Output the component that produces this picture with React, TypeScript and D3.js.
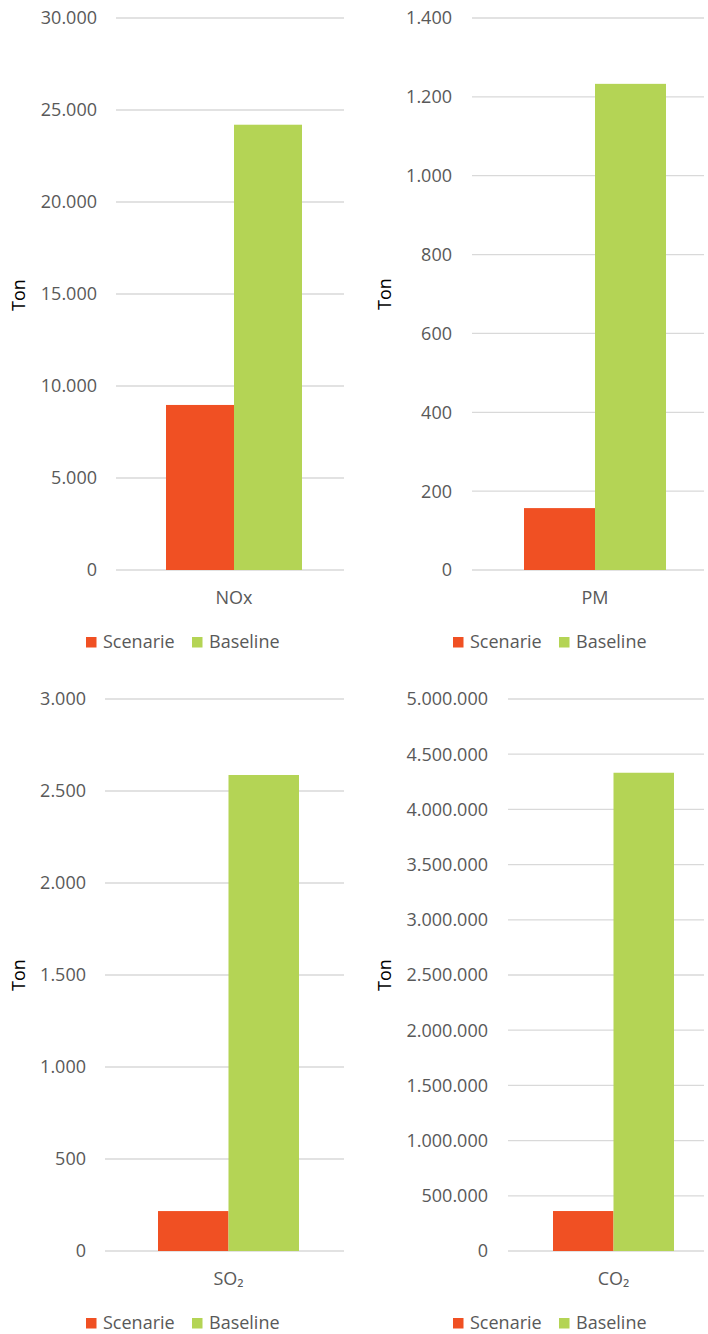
import React from "react";
import * as d3 from "d3";

const pollutants = ["NOx", "PM", "SO₂", "CO₂"];
const seriesNames = ["Scenarie", "Baseline"];
const scenarieValues = [8970, 157, 217, 362000];
const baselineValues = [24200, 1233, 2587, 4332000];
const axisMax = [30000, 1400, 3000, 5000000];
const axisStep = [5000, 200, 500, 500000];
const axisTitle = "Ton";

const colors = ["#F05023", "#B4D455"];
const textGray = "#595959";
const gridColor = "#D9D9D9";
const fontFamily = "'Open Sans', 'Segoe UI', sans-serif";

// layout per panel
const layouts = [
  { gridL: 116, gridR: 344, top: 18, bottom: 570, labelR: 97, barL: 166, barR: 302, titleX: 25, titleY: 295, catY: 604, legY: 648, legX: 86 },
  { gridL: 472, gridR: 704, top: 18, bottom: 570, labelR: 452, barL: 524, barR: 666, titleX: 391, titleY: 294, catY: 604, legY: 648, legX: 453 },
  { gridL: 105, gridR: 344, top: 699, bottom: 1251, labelR: 86, barL: 158, barR: 299, titleX: 25, titleY: 975, catY: 1285, legY: 1329, legX: 86 },
  { gridL: 508, gridR: 704, top: 699, bottom: 1251, labelR: 488, barL: 553, barR: 674, titleX: 391, titleY: 975, catY: 1285, legY: 1329, legX: 453 },
];

const fmt = (v: number) => d3.format(",")(v).replace(/,/g, ".");

function Panel({ i }: { i: number }) {
  const L = layouts[i];
  const y = d3.scaleLinear().domain([0, axisMax[i]]).range([L.bottom, L.top]);
  const ticks = d3.range(0, axisMax[i] + axisStep[i] / 2, axisStep[i]);
  const x = d3.scaleBand<string>().domain(seriesNames).range([L.barL, L.barR]).padding(0);
  const vals = [scenarieValues[i], baselineValues[i]];
  const cx = (L.barL + L.barR) / 2;
  return (
    <g>
      {ticks.map((t) => (
        <g key={t}>
          <line x1={L.gridL} x2={L.gridR} y1={y(t)} y2={y(t)} stroke={gridColor} strokeWidth={1.3} />
          <text x={L.labelR} y={y(t)} dy="0.36em" textAnchor="end" fontSize={18} fill={textGray} fontFamily={fontFamily}>
            {fmt(t)}
          </text>
        </g>
      ))}
      {seriesNames.map((s, k) => (
        <rect key={s} x={x(s)} y={y(vals[k])} width={x.bandwidth()} height={L.bottom - y(vals[k])} fill={colors[k]} />
      ))}
      <text x={cx} y={L.catY} textAnchor="middle" fontSize={18} fill={textGray} fontFamily={fontFamily}>
        {pollutants[i]}
      </text>
      <text transform={`translate(${L.titleX},${L.titleY}) rotate(-90)`} textAnchor="middle" fontSize={18} fill="#000" fontFamily={fontFamily}>
        {axisTitle}
      </text>
      {seriesNames.map((s, k) => {
        const lx = L.legX + k * 106;
        return (
          <g key={s}>
            <rect x={lx} y={L.legY - 11} width={10.5} height={10.5} fill={colors[k]} />
            <text x={lx + 17} y={L.legY} fontSize={18} fill={textGray} fontFamily={fontFamily}>
              {s}
            </text>
          </g>
        );
      })}
    </g>
  );
}

export default function App() {
  return (
    <svg width={708} height={1334} style={{ position: "absolute", left: 0, top: 0, background: "#fff" }}>
      <rect width={708} height={1334} fill="#fff" />
      {pollutants.map((_, i) => (
        <Panel key={i} i={i} />
      ))}
    </svg>
  );
}
